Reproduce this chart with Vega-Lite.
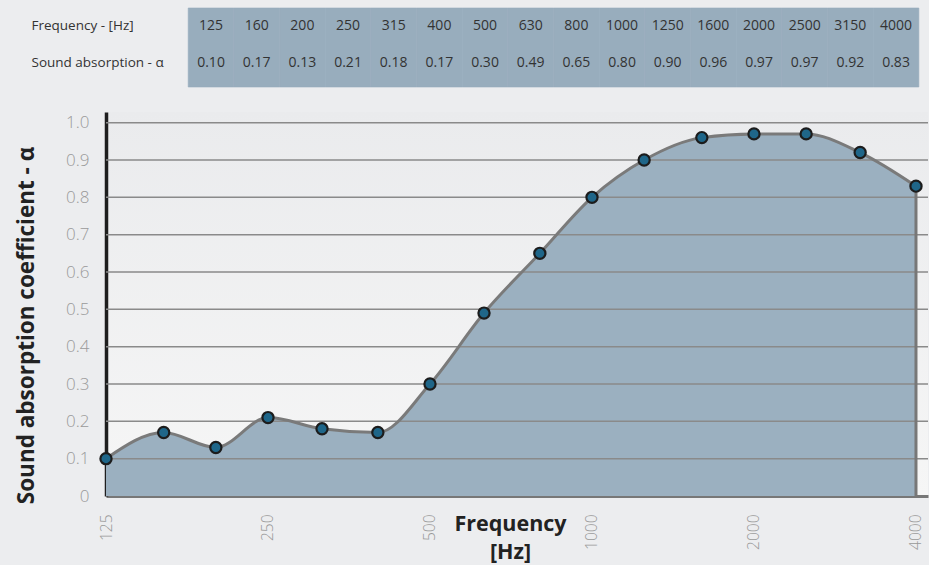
{
  "$schema": "https://vega.github.io/schema/vega-lite/v6.json",
  "background": "#ecedef",
  "padding": {"left": 14, "top": 7, "right": 0, "bottom": 2},
  "config": {
    "font": "Open Sans",
    "view": {"stroke": null},
    "axisY": {"labelOverlap": false}
  },
  "datasets": {
    "absorption": [
      {"freq": 125, "alpha": 0.10},
      {"freq": 160, "alpha": 0.17},
      {"freq": 200, "alpha": 0.13},
      {"freq": 250, "alpha": 0.21},
      {"freq": 315, "alpha": 0.18},
      {"freq": 400, "alpha": 0.17},
      {"freq": 500, "alpha": 0.30},
      {"freq": 630, "alpha": 0.49},
      {"freq": 800, "alpha": 0.65},
      {"freq": 1000, "alpha": 0.80},
      {"freq": 1250, "alpha": 0.90},
      {"freq": 1600, "alpha": 0.96},
      {"freq": 2000, "alpha": 0.97},
      {"freq": 2500, "alpha": 0.97},
      {"freq": 3150, "alpha": 0.92},
      {"freq": 4000, "alpha": 0.83}
    ],
    "grid": [
      {"g": 0.1}, {"g": 0.2}, {"g": 0.3}, {"g": 0.4}, {"g": 0.5},
      {"g": 0.6}, {"g": 0.7}, {"g": 0.8}, {"g": 0.9}, {"g": 1.0}
    ]
  },
  "spacing": 24,
  "vconcat": [
    {
      "width": 822,
      "height": 79,
      "data": {"name": "absorption"},
      "layer": [
        {
          "mark": {"type": "rect", "color": "#98adbd", "stroke": "#98adbd", "strokeWidth": 0.6},
          "encoding": {
            "x": {"field": "freq", "type": "ordinal", "axis": null,
                  "scale": {"type": "band", "paddingInner": 0, "paddingOuter": 1, "align": 0.9}}
          }
        },
        {
          "mark": {"type": "text", "fontSize": 14, "color": "#333333"},
          "encoding": {
            "x": {"field": "freq", "type": "ordinal"},
            "y": {"datum": "Frequency - [Hz]", "type": "nominal",
                  "scale": {"type": "point", "domain": ["Frequency - [Hz]", "Sound absorption - α"], "padding": 0.57, "align": 0.42},
                  "axis": {"title": null, "domain": false, "ticks": false, "grid": false,
                           "labelAlign": "left", "labelPadding": 75, "labelFontSize": 13.5,
                           "labelColor": "#333333", "labelLimit": 300}},
            "text": {"field": "freq", "type": "nominal"}
          }
        },
        {
          "mark": {"type": "text", "fontSize": 14, "color": "#333333"},
          "encoding": {
            "x": {"field": "freq", "type": "ordinal"},
            "y": {"datum": "Sound absorption - α", "type": "nominal"},
            "text": {"field": "alpha", "type": "quantitative", "format": ".2f"}
          }
        }
      ]
    },
    {
      "width": 822,
      "height": 384,
      "view": {
        "stroke": null,
        "fill": {"gradient": "linear", "x1": 0, "y1": 0, "x2": 0, "y2": 1,
                 "stops": [{"offset": 0, "color": "#eaebed"}, {"offset": 1, "color": "#f6f6f6"}]}
      },
      "data": {"name": "absorption"},
      "encoding": {
        "x": {"field": "freq", "type": "quantitative",
              "scale": {"type": "log", "domain": [125, 4211], "nice": false},
              "axis": {"values": [125, 250, 500, 1000, 2000, 4000], "format": "d",
                       "labelAngle": -90, "labelFontSize": 15.5, "labelFontWeight": 300, "labelColor": "#999999",
                       "labelPadding": 18, "labelOverlap": false, "ticks": false, "grid": false,
                       "domainColor": "#777777", "domainWidth": 3,
                       "title": ["Frequency", "[Hz]"], "titleFontSize": 21.5,
                       "titleFontWeight": "bold", "titleColor": "#222222",
                       "titleX": 404, "titleY": 17, "titleBaseline": "top",
                       "titleAlign": "center", "titleLineHeight": 28}},
        "y": {"field": "alpha", "type": "quantitative",
              "scale": {"domain": [0, 1.0286], "nice": false},
              "axis": {"title": "Sound absorption coefficient - α", "titleFontSize": 22.5,
                       "titleFontWeight": "bold", "titleColor": "#222222",
                       "titleX": -80, "titleY": 213, "titleBaseline": "middle", "titleAlign": "center",
                       "values": [0, 0.1, 0.2, 0.3, 0.4, 0.5, 0.6, 0.7, 0.8, 0.9, 1.0],
                       "labelExpr": "datum.value == 0 ? '0' : format(datum.value, '.1f')",
                       "labelFontSize": 17, "labelFontWeight": 300, "labelColor": "#9a9a9a", "labelPadding": 17,
                       "labelOverlap": false,
                       "ticks": false, "grid": false,
                       "domainColor": "#1e1e1e", "domainWidth": 3.5}}
      },
      "layer": [
        {
          "mark": {"type": "area", "interpolate": "monotone", "color": "#9bb0c0"}
        },
        {
          "data": {"name": "grid"},
          "mark": {"type": "rule", "color": "#8a8a8a", "strokeWidth": 1.5},
          "encoding": {
            "x": null,
            "y": {"field": "g", "type": "quantitative",
                  "axis": {"title": "Sound absorption coefficient - α", "titleFontSize": 22.5,
                           "titleFontWeight": "bold", "titleColor": "#222222",
                           "titleX": -80, "titleY": 213, "titleBaseline": "middle", "titleAlign": "center",
                           "values": [0, 0.1, 0.2, 0.3, 0.4, 0.5, 0.6, 0.7, 0.8, 0.9, 1.0],
                           "labelExpr": "datum.value == 0 ? '0' : format(datum.value, '.1f')",
                           "labelFontSize": 17, "labelFontWeight": 300, "labelColor": "#9a9a9a", "labelPadding": 17,
                           "labelOverlap": false,
                           "ticks": false, "grid": false,
                           "domainColor": "#1e1e1e", "domainWidth": 3.5}}
          }
        },
        {
          "transform": [{"filter": "datum.freq == 4000"}],
          "mark": {"type": "rule", "color": "#777777", "strokeWidth": 3},
          "encoding": {
            "y2": {"datum": 0}
          }
        },
        {
          "mark": {"type": "line", "interpolate": "monotone", "color": "#7a7a7a", "strokeWidth": 3}
        },
        {
          "mark": {"type": "point", "shape": "circle", "filled": true, "size": 125,
                   "fill": "#1f6689", "stroke": "#1c1c1c", "strokeWidth": 2.2, "opacity": 1}
        }
      ]
    }
  ]
}
